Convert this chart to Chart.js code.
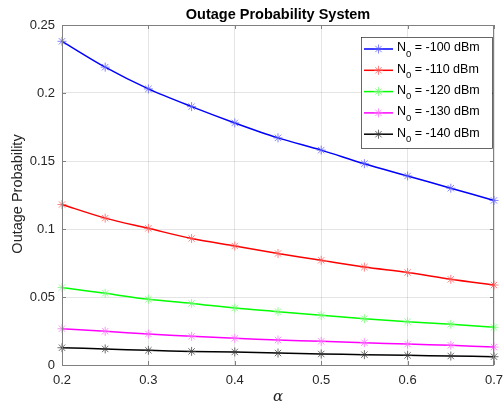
<!DOCTYPE html>
<html>
<head>
<meta charset="utf-8">
<script src="https://cdn.jsdelivr.net/npm/chart.js@4.4.1/dist/chart.umd.min.js"></script>
<style>
  html, body { margin: 0; padding: 0; background: #fff; }
  #wrap { width: 503px; height: 405px; }
</style>
</head>
<body>
<div id="wrap"><canvas id="grafico" width="503" height="405"></canvas></div>
<script>
// datos
const alphas = [0.2, 0.25, 0.3, 0.35, 0.4, 0.45, 0.5, 0.55, 0.6, 0.65, 0.7];
const n100 = [0.238, 0.219, 0.203, 0.190, 0.178, 0.167, 0.158, 0.148, 0.139, 0.130, 0.121];
const n110 = [0.118, 0.108, 0.1005, 0.093, 0.0875, 0.082, 0.077, 0.072, 0.068, 0.063, 0.0588];
const n120 = [0.057, 0.0527, 0.0483, 0.0453, 0.0419, 0.0392, 0.0365, 0.034, 0.0318, 0.0299, 0.0277];
const n130 = [0.0267, 0.0248, 0.0228, 0.0211, 0.0196, 0.0184, 0.0174, 0.0164, 0.0154, 0.0145, 0.0132];
const n140 = [0.0127, 0.0118, 0.0108, 0.0100, 0.0096, 0.0088, 0.0081, 0.0076, 0.0071, 0.0066, 0.0061];
const etiquetas = ['-100 dBm', '-110 dBm', '-120 dBm', '-130 dBm', '-140 dBm'];
const series = [n100, n110, n120, n130, n140];
const colores = ['#0000ff', '#ff0000', '#00ff00', '#ff00ff', '#000000'];
const marcas = ['rgba(90,90,255,0.75)', 'rgba(255,90,90,0.75)', 'rgba(110,255,110,0.75)', 'rgba(255,110,255,0.75)', 'rgba(60,60,60,0.75)'];
const yTicks = [0, 0.05, 0.1, 0.15, 0.2, 0.25];
const xTicks = [0.2, 0.3, 0.4, 0.5, 0.6, 0.7];

const fuente = '"Liberation Sans", Arial, Helvetica, sans-serif';
Chart.defaults.font.family = fuente;
Chart.defaults.color = '#262626';

const datasets = series.map((s, i) => ({
    label: 'N0 = ' + etiquetas[i],
    data: s.map((v, j) => ({ x: alphas[j], y: v })),
    borderColor: colores[i],
    borderWidth: 1.5,
    pointStyle: 'star',
    pointRadius: 4.5,
    pointBorderWidth: 1,
    pointBorderColor: marcas[i],
    pointBackgroundColor: marcas[i],
    pointHoverRadius: 4.5,
    tension: 0.3,
    clip: false
}));

// caja, marcas de eje, titulos y leyenda estilo MATLAB
const estiloMatlab = {
    id: 'estiloMatlab',
    afterDraw(chart) {
        const ctx = chart.ctx;
        const { left, right, top, bottom } = chart.chartArea;
        const xs = chart.scales.x, ys = chart.scales.y;
        ctx.save();
        ctx.strokeStyle = '#808080';
        ctx.lineWidth = 1;
        ctx.strokeRect(left + 0.5, top + 0.5, right - left - 1, bottom - top);
        ctx.beginPath();
        xTicks.forEach(t => {
            const px = Math.round(xs.getPixelForValue(t)) + 0.5;
            ctx.moveTo(px, bottom); ctx.lineTo(px, bottom - 4);
            ctx.moveTo(px, top); ctx.lineTo(px, top + 4);
        });
        yTicks.forEach(t => {
            const py = Math.round(ys.getPixelForValue(t)) + 0.5;
            ctx.moveTo(left, py); ctx.lineTo(left + 4, py);
            ctx.moveTo(right, py); ctx.lineTo(right - 4, py);
        });
        ctx.stroke();

        // titulo
        ctx.fillStyle = '#000';
        ctx.font = 'bold 14.5px ' + fuente;
        ctx.textAlign = 'center';
        ctx.textBaseline = 'middle';
        ctx.fillText('Outage Probability System', (left + right) / 2, 15);

        // etiquetas de ejes
        ctx.fillStyle = '#262626';
        ctx.font = '14.5px ' + fuente;
        ctx.save();
        ctx.translate(18, 194);
        ctx.rotate(-Math.PI / 2);
        ctx.fillText('Outage Probability', 0, 0);
        ctx.restore();
        ctx.font = 'italic 15px "DejaVu Serif", "Liberation Serif", serif';
        ctx.fillText('α', (left + right) / 2, 397);

        // leyenda
        const bx = 361, by = 37, bw = 131, bh = 111;
        ctx.fillStyle = '#fff';
        ctx.fillRect(bx, by, bw, bh);
        ctx.strokeStyle = '#262626';
        ctx.lineWidth = 0.7;
        ctx.strokeRect(bx + 0.5, by + 0.5, bw, bh);
        etiquetas.forEach((txt, i) => {
            const cy = 49 + i * 21.3;
            ctx.strokeStyle = colores[i];
            ctx.lineWidth = 1.5;
            ctx.beginPath();
            ctx.moveTo(364, cy); ctx.lineTo(393, cy);
            ctx.stroke();
            ctx.strokeStyle = marcas[i];
            ctx.lineWidth = 1;
            Chart.helpers.drawPoint(ctx, { pointStyle: 'star', radius: 4.5, rotation: 0, borderWidth: 1 }, 378.5, cy);
            ctx.fillStyle = '#000';
            ctx.textAlign = 'left';
            ctx.textBaseline = 'middle';
            ctx.font = '12.5px ' + fuente;
            ctx.fillText('N', 397, cy - 1);
            const wN = ctx.measureText('N').width;
            ctx.font = '9.5px ' + fuente;
            ctx.fillText('0', 397 + wN, cy + 5);
            const w0 = ctx.measureText('0').width;
            ctx.font = '12.5px ' + fuente;
            ctx.fillText(' = ' + txt, 397 + wN + w0, cy - 1);
        });
        ctx.restore();
    }
};

new Chart(document.getElementById('grafico').getContext('2d'), {
    type: 'line',
    data: { datasets: datasets },
    options: {
        responsive: false,
        animation: false,
        layout: { padding: { top: 25, right: 9, left: 0, bottom: 0 } },
        plugins: {
            legend: { display: false },
            title: { display: false },
            tooltip: { enabled: false }
        },
        scales: {
            x: {
                type: 'linear',
                min: 0.2,
                max: 0.7,
                afterBuildTicks: s => { s.ticks = xTicks.map(v => ({ value: v })); },
                afterFit: s => { s.height = 40; s.paddingRight = 0; s.paddingLeft = 0; },
                grid: { color: 'rgba(38,38,38,0.12)', drawTicks: false },
                border: { display: false },
                ticks: { padding: 8, font: { size: 13 }, color: '#262626', maxRotation: 0,
                    callback: v => String(Math.round(v * 10) / 10) }
            },
            y: {
                min: 0,
                max: 0.25,
                afterBuildTicks: s => { s.ticks = yTicks.map(v => ({ value: v })); },
                afterFit: s => { s.width = 62; },
                grid: { color: 'rgba(38,38,38,0.12)', drawTicks: false },
                border: { display: false },
                ticks: { padding: 7, font: { size: 13 }, color: '#262626',
                    callback: v => String(Math.round(v * 100) / 100) }
            }
        }
    },
    plugins: [estiloMatlab]
});
</script>
</body>
</html>
